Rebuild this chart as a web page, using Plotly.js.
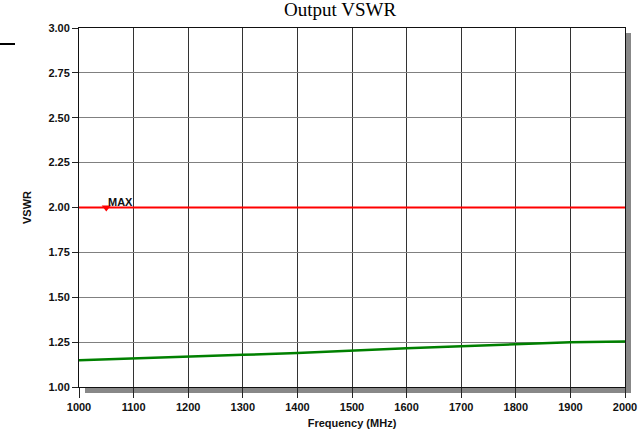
<!DOCTYPE html>
<html>
<head>
<meta charset="utf-8">
<script src="https://cdn.plot.ly/plotly-3.0.1.min.js"></script>
<style>html,body{margin:0;padding:0;background:#fff;}#chart{width:644px;height:436px;}</style>
</head>
<body>
<div id="chart"></div>
<script>
// Data
var freq = [1000, 1100, 1200, 1300, 1400, 1500, 1600, 1700, 1800, 1900, 2000];
var vswrOut = [1.149, 1.158, 1.167, 1.179, 1.190, 1.204, 1.216, 1.227, 1.238, 1.249, 1.254];
var maxFreq = [1000, 2000];
var maxVswr = [2.00, 2.00];
var markerFreq = [1050];
var markerVswr = [2.00];
var markerLabel = 'MAX';
var xTicks = [1000, 1100, 1200, 1300, 1400, 1500, 1600, 1700, 1800, 1900, 2000];
var yTicks = [1.00, 1.25, 1.50, 1.75, 2.00, 2.25, 2.50, 2.75, 3.00];

var boldFont = {family: 'Liberation Sans, Arial, sans-serif', size: 11, color: '#111', weight: 'bold'};

var traces = [
  {x: maxFreq, y: maxVswr, type: 'scatter', mode: 'lines', line: {color: '#ff0000', width: 2}, hoverinfo: 'skip'},
  {x: freq, y: vswrOut, type: 'scatter', mode: 'lines', line: {color: '#008000', width: 2.5}, hoverinfo: 'skip'},
  {x: markerFreq, y: markerVswr, type: 'scatter', mode: 'markers', marker: {symbol: 'triangle-down', color: '#ff0000', size: 8}, hoverinfo: 'skip'}
];

var layout = {
  width: 644, height: 436,
  margin: {l: 79, r: 19, t: 28, b: 49},
  paper_bgcolor: '#fff', plot_bgcolor: '#fff',
  showlegend: false,
  title: {text: 'Output VSWR', font: {family: 'Liberation Serif, Times New Roman, serif', size: 19, color: '#000'}, x: 0.528, xref: 'container', xanchor: 'center', y: 1, yref: 'container', yanchor: 'top', pad: {t: 3}},
  xaxis: {
    range: [1000, 2000], tickvals: xTicks, ticktext: xTicks.map(String),
    ticks: 'outside', ticklen: 10, tickcolor: '#222', tickwidth: 1,
    showgrid: true, gridcolor: '#333', gridwidth: 1,
    showline: true, linecolor: '#111', linewidth: 1, mirror: true,
    zeroline: false, tickfont: boldFont,
    title: {text: 'Frequency (MHz)', font: boldFont, standoff: 7}
  },
  yaxis: {
    range: [1, 3], tickvals: yTicks, ticktext: yTicks.map(function(v){return v.toFixed(2);}),
    ticks: 'outside', ticklen: 6, tickcolor: '#222', tickwidth: 1,
    showgrid: true, gridcolor: '#808080', gridwidth: 1,
    showline: true, linecolor: '#111', linewidth: 1, mirror: true,
    zeroline: false, tickfont: boldFont,
    title: {text: 'VSWR', font: boldFont, standoff: 14}
  },
  annotations: [
    {x: markerFreq[0], y: markerVswr[0], xref: 'x', yref: 'y', text: '<b>' + markerLabel + '</b>', showarrow: false, xanchor: 'left', yanchor: 'bottom', xshift: 0, yshift: -2, font: boldFont}
  ],
  shapes: [
    // drop shadow right
    {type: 'rect', xref: 'paper', yref: 'paper', xsizemode: 'pixel', ysizemode: 'pixel', xanchor: 1, yanchor: 0, x0: 0, x1: 6, y0: -6, y1: 354, fillcolor: '#888', line: {width: 0}, layer: 'below'},
    // drop shadow bottom
    {type: 'rect', xref: 'paper', yref: 'paper', xsizemode: 'pixel', ysizemode: 'pixel', xanchor: 0, yanchor: 0, x0: 6, x1: 552, y0: -6, y1: 0, fillcolor: '#888', line: {width: 0}, layer: 'below'},
    // black bar at top-left
    {type: 'rect', xref: 'paper', yref: 'paper', xsizemode: 'pixel', ysizemode: 'pixel', xanchor: 0, yanchor: 1, x0: -79, x1: -64, y0: -17, y1: -15, fillcolor: '#000', line: {width: 0}}
  ]
};

Plotly.newPlot('chart', traces, layout, {displayModeBar: false, staticPlot: true});
</script>
</body>
</html>
